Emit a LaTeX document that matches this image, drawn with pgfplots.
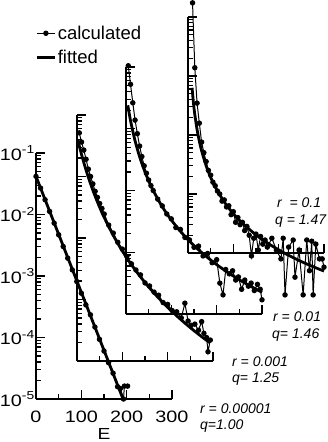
\documentclass[border=0pt]{standalone}
\usepackage{fontspec}
\setmainfont{Liberation Sans}
\newfontfamily\tickfont{Liberation Sans}[FakeStretch=1.2]
\usepackage{pgfplots}
\pgfplotsset{compat=1.18}
\pgfplotsset{
  stag/.style={
    scale only axis, width=136pt, height=246pt,
    xmin=0, xmax=300, ymin=-5, ymax=-1,
    axis lines=left,
    axis line style={-, line width=1.8pt},
    tick align=inside,
    xtick={0,100,200,300}, minor xtick={50,150,250},
    ytick={-5,-4,-3,-2,-1},
    minor ytick={-4.699,-4.523,-4.398,-4.301,-4.222,-4.155,-4.097,-4.046,
                 -3.699,-3.523,-3.398,-3.301,-3.222,-3.155,-3.097,-3.046,
                 -2.699,-2.523,-2.398,-2.301,-2.222,-2.155,-2.097,-2.046,
                 -1.699,-1.523,-1.398,-1.301,-1.222,-1.155,-1.097,-1.046},
    major tick length=9pt, minor tick length=5pt,
    tick style={black, line width=1.2pt},
    xticklabels={}, yticklabels={},
    clip=false,
  },
  calc/.style={black, line width=1pt, mark=*, mark size=2.2pt, mark options={solid}},
  fitl/.style={black, line width=2.8pt, line join=round, no marks},
}
\begin{document}
\begin{tikzpicture}
% ---- axis 1 : r = 0.00001
\begin{axis}[stag, at={(36pt,43pt)}, anchor=south west,
  xticklabels={0,100,200,300},
  yticklabels={{10\textsuperscript{-5}},{10\textsuperscript{-4}},{10\textsuperscript{-3}},{10\textsuperscript{-2}},{10\textsuperscript{-1}}},
  ticklabel style={font=\tickfont\fontsize{16.5}{18}\selectfont},
  yticklabel style={inner xsep=1pt},
  xticklabel style={yshift=-8pt},
  xlabel={E},
  xlabel style={at={(axis description cs:0.5,0)}, anchor=center, yshift=-35pt, font=\tickfont\fontsize{16}{18}\selectfont},
  legend style={draw=none, fill=none, at={(-0.005,1.524)}, anchor=north west,
     font=\fontsize{18.5}{20}\selectfont, row sep=6pt, inner sep=0pt, nodes={inner sep=1.5pt}},
  legend cell align=left,
  legend image code/.code={\draw[#1] (0pt,0pt) -- (18pt,0pt); \draw[#1, only marks] plot coordinates {(9pt,0pt)};},
]
\addplot[calc] coordinates {(0,-1.38)(10,-1.57)(20,-1.76)(30,-1.95)(40,-2.14)(50,-2.33)(60,-2.52)(70,-2.71)(80,-2.90)(90,-3.09)(100,-3.28)(110,-3.47)(120,-3.63)(130,-3.83)(140,-4.03)(150,-4.22)(160,-4.41)(170,-4.58)(180,-4.80)(186,-4.83)(193,-5.0)(195,-4.79)(202,-4.79)};
\addlegendentry{calculated}
\addplot[fitl] coordinates {(0,-1.38)(192,-5.0)};
\addlegendentry{fitted}
\end{axis}
% ---- axis 2 : r = 0.001
\begin{axis}[stag, at={(77pt,81pt)}, anchor=south west]
\addplot[calc] coordinates {(5,-1.29)(10,-1.44)(15,-1.57)(20,-1.72)(25,-1.88)(30,-2.00)(35,-2.12)(40,-2.24)(45,-2.34)(50,-2.44)(55,-2.52)(60,-2.61)(70,-2.79)(80,-2.92)(90,-3.07)(100,-3.18)(110,-3.30)(120,-3.42)(130,-3.52)(140,-3.60)(150,-3.73)(160,-3.78)(170,-3.88)(180,-3.93)(190,-4.05)(200,-4.08)(210,-4.18)(220,-4.20)(230,-4.30)(238,-4.06)(245,-4.35)(252,-4.42)(260,-4.40)(268,-4.50)(275,-4.36)(280,-4.55)(286,-4.62)(289,-4.85)(294,-4.66)};
\addplot[fitl, smooth] coordinates {(2,-1.41)(10,-1.642)(20,-1.896)(30,-2.120)(40,-2.320)(50,-2.501)(60,-2.666)(80,-2.958)(100,-3.211)(120,-3.433)(140,-3.632)(160,-3.812)(180,-3.976)(200,-4.127)(220,-4.266)(240,-4.396)(260,-4.518)(280,-4.632)(293,-4.702)};
\end{axis}
% ---- axis 3 : r = 0.01
\begin{axis}[stag, at={(126pt,128pt)}, anchor=south west, height=247pt]
\addplot[calc] coordinates {(5,-0.98)(10,-1.28)(15,-1.58)(20,-1.86)(25,-2.08)(30,-2.28)(35,-2.45)(40,-2.60)(45,-2.72)(50,-2.83)(55,-2.92)(60,-3.00)(70,-3.14)(80,-3.25)(90,-3.38)(100,-3.46)(110,-3.60)(120,-3.63)(130,-3.76)(140,-3.80)(150,-3.92)(160,-3.90)(170,-4.06)(180,-4.02)(190,-4.17)(200,-4.12)(207,-4.50)(214,-4.69)(220,-4.28)(228,-4.35)(235,-4.30)(242,-4.45)(248,-4.40)(255,-4.60)(262,-4.45)(270,-4.55)(276,-4.50)(283,-4.62)(290,-4.52)(296,-4.60)(300,-4.77)};
\addplot[fitl, smooth] coordinates {(4,-1.62)(10,-1.869)(20,-2.195)(30,-2.452)(40,-2.663)(50,-2.843)(60,-3.000)(80,-3.263)(100,-3.478)(120,-3.661)(140,-3.820)(160,-3.960)(180,-4.086)(200,-4.200)(220,-4.304)(240,-4.400)(260,-4.489)(280,-4.571)(300,-4.649)};
\end{axis}
% ---- axis 4 : r = 0.1
\begin{axis}[stag, at={(188pt,189pt)}, anchor=south west, height=236pt]
\addplot[calc] coordinates {(10,-0.76)(15,-1.86)(20,-2.46)(25,-2.80)(30,-3.12)(35,-3.30)(40,-3.45)(45,-3.60)(50,-3.68)(55,-3.80)(60,-3.86)(65,-3.95)(70,-4.00)(75,-4.12)(80,-4.10)(85,-4.22)(90,-4.20)(95,-4.35)(100,-4.30)(105,-4.48)(110,-4.40)(115,-4.52)(120,-4.48)(125,-4.62)(130,-4.55)(135,-4.70)(140,-5.05)(145,-4.75)(150,-4.68)(155,-4.95)(160,-4.72)(165,-4.85)(170,-4.78)(175,-4.90)(185,-4.75)(195,-4.95)(205,-5.10)(210,-4.75)(214,-5.71)(222,-4.90)(232,-4.78)(236,-5.41)(245,-4.95)(254,-5.71)(262,-4.78)(268,-5.30)(273,-4.80)(276,-5.71)(282,-4.85)(290,-5.10)(296,-5.10)(300,-5.24)};
\addplot[fitl, smooth] coordinates {(9,-2.2)(12,-2.455)(15,-2.652)(20,-2.907)(25,-3.105)(30,-3.266)(40,-3.521)(50,-3.719)(60,-3.880)(80,-4.135)(100,-4.333)(120,-4.495)(150,-4.692)(180,-4.854)(210,-4.990)(240,-5.109)(270,-5.213)(300,-5.306)};
\end{axis}
% ---- annotations
\begin{scope}[every node/.style={anchor=west, inner sep=0pt, font=\itshape\fontsize{14}{16}\selectfont}]
\node at (277pt,239pt) {r\ \ = 0.1};
\node at (275pt,221pt) {q = 1.47};
\node at (273pt,125pt) {r = 0.01};
\node at (272pt,107pt) {q= 1.46};
\node at (232pt,80pt) {r = 0.001};
\node at (232pt,63pt) {q= 1.25};
\node at (200pt,33pt) {r = 0.00001};
\node at (200pt,16pt) {q=1.00};
\end{scope}
\pgfresetboundingbox
\useasboundingbox (0,0) rectangle (327pt,442pt);
\end{tikzpicture}
\end{document}
